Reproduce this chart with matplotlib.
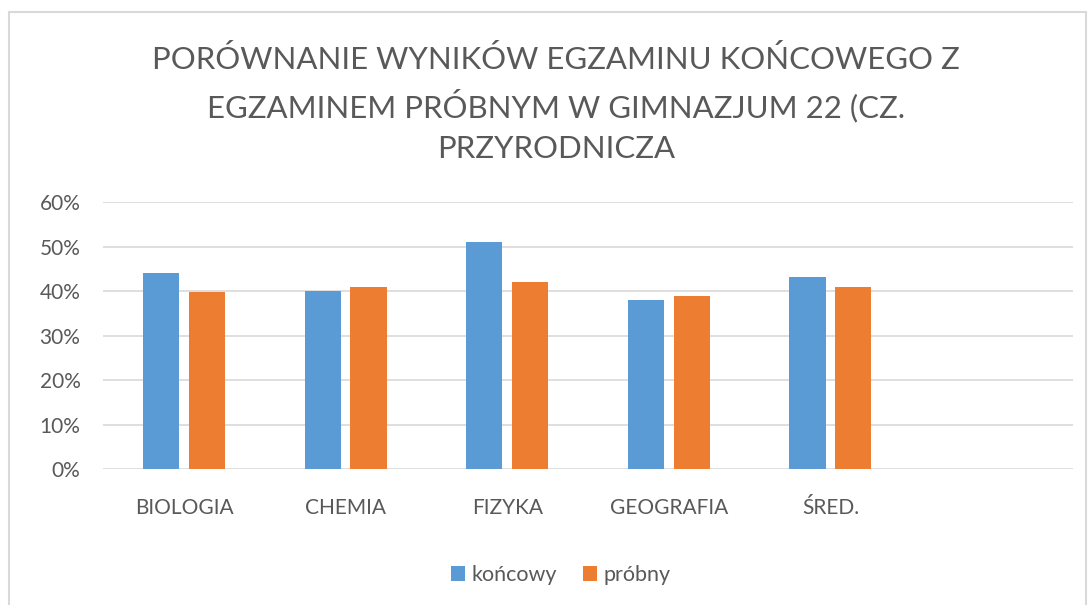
import matplotlib
matplotlib.use("Agg")
import matplotlib.pyplot as plt
from matplotlib.patches import Rectangle
from matplotlib.ticker import FuncFormatter
import numpy as np

categories = ["BIOLOGIA", "CHEMIA", "FIZYKA", "GEOGRAFIA", "ŚRED."]
koncowy = [0.44, 0.40, 0.51, 0.38, 0.432]
probny = [0.398, 0.41, 0.42, 0.388, 0.41]
series_names = ["końcowy", "próbny"]
title = "PORÓWNANIE WYNIKÓW EGZAMINU KOŃCOWEGO Z\nEGZAMINEM PRÓBNYM W GIMNAZJUM 22 (CZ.\nPRZYRODNICZA"

plt.rcParams['font.family'] = ['Lato', 'DejaVu Sans']
txt = "#595959"
blue = "#5B9BD5"
orange = "#ED7D31"
grid = "#D9D9D9"

fig = plt.figure(figsize=(10.9, 6.05), dpi=100)
fig.patch.set_facecolor("white")
# outer chart border
fig.add_artist(Rectangle((9/1090, -0.05), (1086-9)/1090, 1.05 - 12/605,
                         transform=fig.transFigure, fill=False,
                         edgecolor=grid, lw=1.5))

ax = fig.add_axes([103.3/1090, 1-469.3/605, (1072.7-103.3)/1090, (469.3-202)/605])
x = np.arange(len(categories))
w = 0.225
off = 0.142
ax.bar(x - off, koncowy, w, color=blue, label=series_names[0], zorder=3)
ax.bar(x + off, probny, w, color=orange, label=series_names[1], zorder=3)

ax.set_xlim(-0.5, 5.5)
ax.set_ylim(0, 0.6)
ax.set_yticks(np.arange(0, 0.61, 0.1))
ax.yaxis.set_major_formatter(FuncFormatter(lambda v, p: f"{v*100:.0f}%"))
ax.set_xticks(x)
ax.set_xticklabels(categories)
ax.tick_params(axis='both', length=0, labelsize=15, colors=txt)
ax.tick_params(axis='y', pad=16.5)
ax.tick_params(axis='x', pad=21)
ax.grid(axis='y', color=grid, lw=1.2, zorder=0)
for s in ax.spines.values():
    s.set_visible(False)

fig.text(556/1090, 1-104/605, title, ha='center', va='center', fontsize=22.4,
         color=txt, linespacing=1.55)

leg = fig.legend(loc='center', bbox_to_anchor=(561/1090, 1-575/605), ncol=2,
                 frameon=False, fontsize=15.5, handlelength=0.65, handleheight=0.65,
                 handletextpad=0.3, columnspacing=1.2, labelcolor=txt)

fig.savefig("out.png", dpi=100)
